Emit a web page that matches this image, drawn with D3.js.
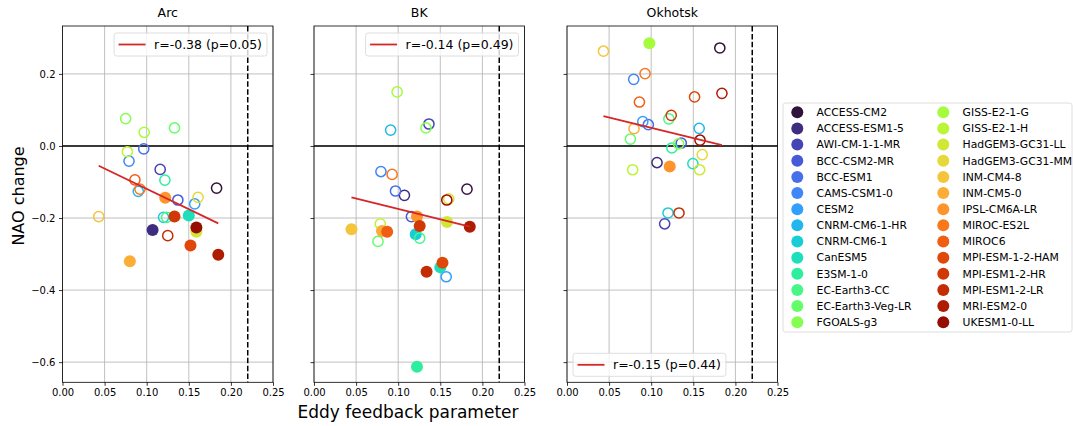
<!DOCTYPE html>
<html>
<head>
<meta charset="utf-8">
<script src="https://cdn.jsdelivr.net/npm/d3@7"></script>
<style>
	body {margin:0; background:#fff;}
	svg text {font-family:"DejaVu Sans", sans-serif; fill:#000;}
	.grid line {stroke:#b0b0b0; stroke-width:0.8;}
	.axis path, .axis line {stroke:#000; stroke-width:0.8;}
</style>
</head>
<body>
<div id="graphic"></div>
<script>

// =========================================
// NAO change vs eddy feedback parameter, three regions
// =========================================

var models = ['ACCESS-CM2','ACCESS-ESM1-5','AWI-CM-1-1-MR','BCC-CSM2-MR','BCC-ESM1','CAMS-CSM1-0',
	'CESM2','CNRM-CM6-1-HR','CNRM-CM6-1','CanESM5','E3SM-1-0','EC-Earth3-CC','EC-Earth3-Veg-LR',
	'FGOALS-g3','GISS-E2-1-G','GISS-E2-1-H','HadGEM3-GC31-LL','HadGEM3-GC31-MM','INM-CM4-8',
	'INM-CM5-0','IPSL-CM6A-LR','MIROC-ES2L','MIROC6','MPI-ESM-1-2-HAM','MPI-ESM1-2-HR',
	'MPI-ESM1-2-LR','MRI-ESM2-0','UKESM1-0-LL'];

var colors = ['#30123b','#3e2c80','#4444b4','#4659d6','#466fe9','#3f87f9','#31a0fc','#22b7ec',
	'#19cdd6','#1ddfbc','#2dee9f','#46f787','#64fd6a','#84fe50','#a4fc3c','#bcf436','#d2e735',
	'#e5d838','#f4c43a','#fcad36','#fe942b','#f9781e','#ef5e13','#e0480a','#d03905','#c42c04',
	'#ae1c02','#960e01'];

var regions = ['Arc', 'BK', 'Okhotsk'];

// eddy feedback parameter (x), NAO change (y), 1 = filled marker
var arcX = [0.183,0.107,0.116,0.137,0.0965,0.079,0.157,0.090,0.120,0.150,0.1216,0.1236,0.133,0.075,
	0.097,0.077,0.159,0.161,0.043,0.080,0.122,0.092,0.086,0.152,0.133,0.125,0.185,0.159];
var arcY = [-0.117,-0.233,-0.065,-0.150,-0.008,-0.042,-0.161,-0.126,-0.198,-0.193,-0.095,-0.198,0.050,0.076,
	0.038,-0.016,-0.238,-0.1425,-0.196,-0.320,-0.1435,-0.120,-0.094,-0.276,-0.196,-0.249,-0.302,-0.226];
var arcFilled = [0,1,0,0,0,0,0,0,0,1,0,0,0,0,0,0,1,0,0,1,1,0,0,1,1,0,1,1];

var bkX = [0.1817,0.1074,0.1365,0.1157,0.0968,0.0795,0.157,0.091,0.1208,0.150,0.1223,0.1255,0.076,0.133,
	0.0987,0.0787,0.158,0.160,0.0445,0.0807,0.1223,0.0928,0.0869,0.1526,0.1255,0.1337,0.185,0.1577];
var bkY = [-0.120,-0.137,0.061,-0.196,-0.125,-0.071,-0.363,0.044,-0.245,-0.337,-0.613,-0.256,-0.265,0.050,
	0.150,-0.216,-0.211,-0.147,-0.231,-0.236,-0.196,-0.079,-0.238,-0.324,-0.222,-0.349,-0.224,-0.150];
var bkFilled = [0,0,0,0,0,0,0,0,1,1,1,0,0,0,0,0,1,0,1,1,1,0,1,1,1,1,1,0];

var okhX = [0.1815,0.1069,0.116,0.1357,0.0966,0.0792,0.090,0.157,0.120,0.1495,0.1246,0.121,0.0753,0.1326,
	0.0978,0.078,0.1575,0.1606,0.0433,0.0796,0.122,0.0927,0.086,0.1515,0.1238,0.133,0.184,0.158];
var okhY = [0.272,-0.046,-0.216,0.008,0.059,0.185,0.0675,0.049,-0.186,-0.049,-0.0056,0.075,0.019,0.006,
	0.285,-0.066,-0.066,-0.024,0.263,0.048,-0.057,0.201,0.122,0.136,0.085,-0.186,0.146,0.016];
var okhFilled = [0,0,0,0,0,0,0,0,0,0,0,0,0,0,1,0,0,0,0,0,1,0,0,0,0,0,0,0];

// regression line ends [[x0,y0],[x1,y1]] and its legend label
var arcFit = [[0.043,-0.055],[0.185,-0.215]];
var bkFit = [[0.0445,-0.1425],[0.185,-0.224]];
var okhFit = [[0.0433,0.083],[0.184,0.002]];
var fitLabels = ['r=-0.38 (p=0.05)', 'r=-0.14 (p=0.49)', 'r=-0.15 (p=0.44)'];

var xTicks = [0, 0.05, 0.10, 0.15, 0.20, 0.25];
var yTicks = [-0.6, -0.4, -0.2, 0.0, 0.2];
var threshold = 0.22;

var width = 1073, height = 426;

var svg = d3.select('#graphic').append('svg')
	.attr('width', width)
	.attr('height', height);

var panelLefts = [62.5, 314, 567];
var panelWidth = 210.5;
var plotTop = 26, plotBottom = 382.3;

var y = d3.scaleLinear().domain([-0.656, 0.333]).range([plotBottom, plotTop]);

renderPanel({index: 0, xs: arcX, ys: arcY, filled: arcFilled, fit: arcFit, legendPos: 'upper right'});
renderPanel({index: 1, xs: bkX, ys: bkY, filled: bkFilled, fit: bkFit, legendPos: 'upper right'});
renderPanel({index: 2, xs: okhX, ys: okhY, filled: okhFilled, fit: okhFit, legendPos: 'lower left'});

function renderPanel(config) {
	var i = config.index;
	var left = panelLefts[i];
	var x = d3.scaleLinear().domain([0, 0.25]).range([left, left + panelWidth]);

	var g = svg.append('g').attr('class', 'panel panel-' + i);

	// grid
	var grid = g.append('g').attr('class', 'grid');
	grid.selectAll('line.gx').data(xTicks).enter().append('line')
		.attr('class', 'gx')
		.attr('x1', function(d) {return x(d);}).attr('x2', function(d) {return x(d);})
		.attr('y1', plotTop).attr('y2', plotBottom);
	grid.selectAll('line.gy').data(yTicks).enter().append('line')
		.attr('class', 'gy')
		.attr('x1', left).attr('x2', left + panelWidth)
		.attr('y1', function(d) {return y(d);}).attr('y2', function(d) {return y(d);});

	// zero line and threshold
	g.append('line')
		.attr('x1', left).attr('x2', left + panelWidth)
		.attr('y1', y(0)).attr('y2', y(0))
		.attr('stroke', '#000').attr('stroke-width', 1.5);
	g.append('line')
		.attr('x1', x(threshold)).attr('x2', x(threshold))
		.attr('y1', plotTop).attr('y2', plotBottom)
		.attr('stroke', '#000').attr('stroke-width', 1.5)
		.attr('stroke-dasharray', '5.5,2.4');

	// points
	var pts = models.map(function(m, k) {
		return {model: m, x: config.xs[k], y: config.ys[k], filled: config.filled[k], color: colors[k]};
	});
	g.append('g').selectAll('circle').data(pts).enter().append('circle')
		.attr('cx', function(d) {return x(d.x);})
		.attr('cy', function(d) {return y(d.y);})
		.attr('r', function(d) {return d.filled ? 6 : 5.1;})
		.attr('fill', function(d) {return d.filled ? d.color : 'none';})
		.attr('stroke', function(d) {return d.filled ? 'none' : d.color;})
		.attr('stroke-width', 1.5);

	// regression
	var line = d3.line()
		.x(function(d) {return x(d[0]);})
		.y(function(d) {return y(d[1]);});
	g.append('path')
		.attr('d', line(config.fit))
		.attr('fill', 'none')
		.attr('stroke', '#d62728')
		.attr('stroke-width', 1.8);

	// axes
	g.append('g').attr('class', 'axis axis-x')
		.attr('transform', 'translate(0,' + plotBottom + ')')
		.call(d3.axisBottom(x).tickValues(xTicks).tickFormat(d3.format('.2f')).tickSize(3.5).tickPadding(3.5))
		.call(function(a) {
			a.select('.domain').remove();
			a.selectAll('text').attr('font-size', 10).style('font-family', '"DejaVu Sans", sans-serif');
		});
	g.append('g').attr('class', 'axis axis-y')
		.attr('transform', 'translate(' + left + ',0)')
		.call(d3.axisLeft(y).tickValues(yTicks).tickFormat(i == 0 ? d3.format('.1f') : '').tickSize(3.5).tickPadding(3.5))
		.call(function(a) {
			a.select('.domain').remove();
			a.selectAll('text').attr('font-size', 10).style('font-family', '"DejaVu Sans", sans-serif');
		});

	// frame
	g.append('rect')
		.attr('x', left).attr('y', plotTop)
		.attr('width', panelWidth).attr('height', plotBottom - plotTop)
		.attr('fill', 'none').attr('stroke', '#000').attr('stroke-width', 0.8);

	// title
	g.append('text')
		.attr('x', left + panelWidth / 2).attr('y', 17)
		.attr('text-anchor', 'middle')
		.attr('font-size', 12.5)
		.text(regions[i]);

	// fit legend
	var lg = g.append('g');
	var box = lg.append('rect')
		.attr('fill', '#fff').attr('fill-opacity', 0.8)
		.attr('stroke', '#d6d6d6').attr('stroke-width', 0.8)
		.attr('rx', 2.5);
	var label = lg.append('text')
		.attr('font-size', 12.5)
		.attr('x', 40).attr('y', 15.8)
		.text(fitLabels[i]);
	lg.append('line')
		.attr('x1', 4.5).attr('x2', 31.5)
		.attr('y1', 11.5).attr('y2', 11.5)
		.attr('stroke', '#d62728').attr('stroke-width', 1.8);
	var bw = 40 + label.node().getComputedTextLength() + 5, bh = 23;
	box.attr('width', bw).attr('height', bh);
	if (config.legendPos == 'upper right') {
		lg.attr('transform', 'translate(' + (left + panelWidth - 6 - bw) + ',' + (plotTop + 7) + ')');
	} else {
		lg.attr('transform', 'translate(' + (left + 6) + ',' + (plotBottom - 6 - bh) + ')');
	}
}

// axis labels
svg.append('text')
	.attr('transform', 'translate(24,196) rotate(-90)')
	.attr('text-anchor', 'middle')
	.attr('font-size', 16)
	.text('NAO change');

svg.append('text')
	.attr('x', 408).attr('y', 418)
	.attr('text-anchor', 'middle')
	.attr('font-size', 17)
	.text('Eddy feedback parameter');

// model legend
var legend = svg.append('g').attr('class', 'model-legend');
legend.append('rect')
	.attr('x', 783).attr('y', 103)
	.attr('width', 289).attr('height', 229)
	.attr('rx', 2.5)
	.attr('fill', '#fff')
	.attr('stroke', '#d6d6d6').attr('stroke-width', 0.8);

var items = legend.selectAll('g.item').data(models).enter().append('g')
	.attr('class', 'item')
	.attr('transform', function(d, k) {
		var col = Math.floor(k / 14), row = k % 14;
		return 'translate(' + (797.3 + col * 146) + ',' + (112.3 + row * 16.15) + ')';
	});
items.append('circle')
	.attr('r', 6)
	.attr('fill', function(d, k) {return colors[k];});
items.append('text')
	.attr('x', 19.3).attr('y', 3.8)
	.attr('font-size', 10.8)
	.text(function(d) {return d;});

</script>
</body>
</html>
